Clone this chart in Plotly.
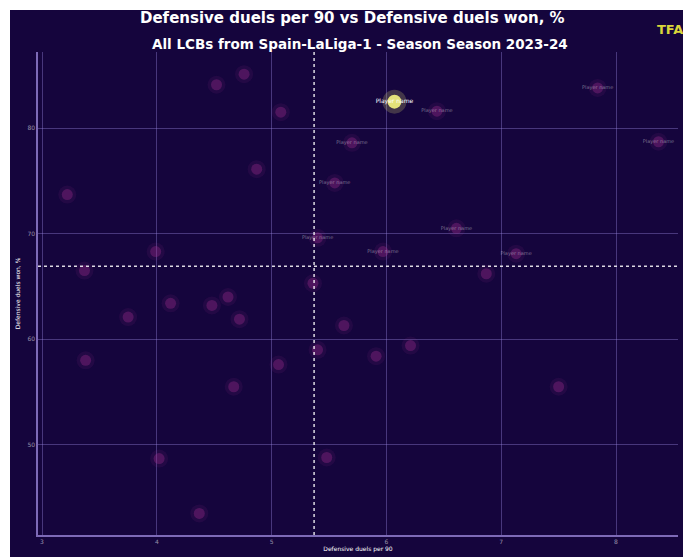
import plotly.graph_objects as go

# ---- data ----
duels_p90 = [4.76, 4.52, 5.08, 5.70, 6.44, 7.84, 8.37, 3.22, 4.87, 5.55,
             5.40, 5.97, 6.61, 7.13, 3.99, 3.37, 5.36, 6.87, 4.62, 4.12,
             4.48, 3.75, 4.72, 5.63, 5.40, 6.21, 5.91, 3.38, 5.06, 4.67,
             7.50, 4.02, 5.48, 4.37]
duels_won = [85.1, 84.1, 81.5, 78.6, 81.6, 83.8, 78.7, 73.7, 76.1, 74.8,
             69.6, 68.3, 70.5, 68.1, 68.3, 66.5, 65.3, 66.2, 64.0, 63.4,
             63.2, 62.1, 61.9, 61.3, 59.0, 59.4, 58.4, 58.0, 57.6, 55.5,
             55.5, 48.7, 48.8, 43.5]
labels = ["", "", "", "Player name", "Player name", "Player name", "Player name", "", "", "Player name",
          "Player name", "Player name", "Player name", "Player name", "", "", "", "", "", "",
          "", "", "", "", "", "", "", "", "", "",
          "", "", "", ""]
highlight_name = ["Player name"]
highlight_x = [6.07]
highlight_y = [82.5]
avg_x = 5.37
avg_y = 66.9
x_ticks = [3, 4, 5, 6, 7, 8]
y_ticks = [50, 60, 70, 80]

BG = "#15053d"
W, H = 683, 557
L, R, T, B = 38, 5, 52, 22

fig = go.Figure()

# glow halo
fig.add_trace(go.Scatter(x=duels_p90, y=duels_won, mode="markers",
                         marker=dict(size=18, color="rgba(170,50,150,0.10)", line=dict(width=0)),
                         hoverinfo="skip", showlegend=False))
fig.add_trace(go.Scatter(x=duels_p90, y=duels_won, mode="markers+text",
                         text=labels, textposition="middle center",
                         textfont=dict(size=5, color="rgba(255,255,255,0.4)", family="DejaVu Sans"),
                         marker=dict(size=11, color="rgba(160,45,140,0.35)", line=dict(width=0)),
                         showlegend=False))
# highlighted player
fig.add_trace(go.Scatter(x=highlight_x, y=highlight_y, mode="markers",
                         marker=dict(size=24, color="rgba(230,230,120,0.22)", line=dict(width=0)),
                         hoverinfo="skip", showlegend=False))
fig.add_trace(go.Scatter(x=highlight_x, y=highlight_y, mode="markers+text",
                         text=highlight_name, textposition="middle center",
                         textfont=dict(size=6, color="white", family="DejaVu Sans"),
                         marker=dict(size=14, color="#e4e27a", line=dict(width=0)),
                         showlegend=False))

# dark background rectangle (white frame top/left)
pw = W - L - R
ph = H - T - B
fig.add_shape(type="rect", xref="paper", yref="paper",
              x0=(10 - L) / pw, x1=1.2, y0=-0.2, y1=(H - B - 10) / ph,
              fillcolor=BG, line=dict(width=0), layer="below")

# average lines
fig.add_shape(type="line", xref="x", yref="paper", x0=avg_x, x1=avg_x, y0=0, y1=1,
              line=dict(color="rgba(255,255,255,0.85)", width=1.5, dash="dot"))
fig.add_shape(type="line", xref="paper", yref="y", x0=0, x1=1, y0=avg_y, y1=avg_y,
              line=dict(color="rgba(255,255,255,0.85)", width=1.5, dash="dot"))

fig.update_layout(
    width=W, height=H,
    margin=dict(l=L, r=R, t=T, b=B),
    paper_bgcolor="white",
    plot_bgcolor="rgba(0,0,0,0)",
    font=dict(family="DejaVu Sans", color="white"),
    xaxis=dict(range=[2.965, 2.965 + pw / 114.8], tickvals=x_ticks, automargin=False,
               showgrid=True, gridcolor="rgba(150,130,220,0.4)", gridwidth=1,
               zeroline=False, showline=True, linecolor="rgba(170,150,235,0.7)", linewidth=1.5,
               tickfont=dict(size=6, color="rgba(255,255,255,0.55)"),
               title=dict(text="Defensive duels per 90", font=dict(size=6, color="white"), standoff=1)),
    yaxis=dict(range=[87.2 - ph / 10.56, 87.2], tickvals=y_ticks, automargin=False,
               showgrid=True, gridcolor="rgba(150,130,220,0.4)", gridwidth=1,
               zeroline=False, showline=True, linecolor="rgba(170,150,235,0.7)", linewidth=1.5,
               tickfont=dict(size=6, color="rgba(255,255,255,0.55)"),
               title=dict(text="Defensive duels won, %", font=dict(size=6, color="white"), standoff=6)),
    annotations=[
        dict(text="<b>Defensive duels per 90 vs Defensive duels won, %</b>", xref="paper", yref="paper",
             x=(352 - L) / pw, y=(H - B - 18) / ph, xanchor="center", yanchor="middle", showarrow=False,
             font=dict(size=15, color="white", family="DejaVu Sans")),
        dict(text="<b>All LCBs from Spain-LaLiga-1 - Season Season 2023-24</b>", xref="paper", yref="paper",
             x=(360 - L) / pw, y=(H - B - 44) / ph, xanchor="center", yanchor="middle", showarrow=False,
             font=dict(size=13.5, color="white", family="DejaVu Sans")),
        dict(text="<b>TFA</b>", xref="paper", yref="paper",
             x=(655 - L) / pw, y=(H - B - 30) / ph, xanchor="left", yanchor="middle", showarrow=False,
             font=dict(size=13, color="#d9d63a", family="DejaVu Sans")),
    ],
)

fig.write_html("out.html", config={"displayModeBar": False})

# remove default browser body margin so the figure fills the window exactly
with open("out.html", "r", encoding="utf-8") as f:
    html = f.read()
html = html.replace("<body>", '<body style="margin:0;padding:0;overflow:hidden">', 1)
with open("out.html", "w", encoding="utf-8") as f:
    f.write(html)
